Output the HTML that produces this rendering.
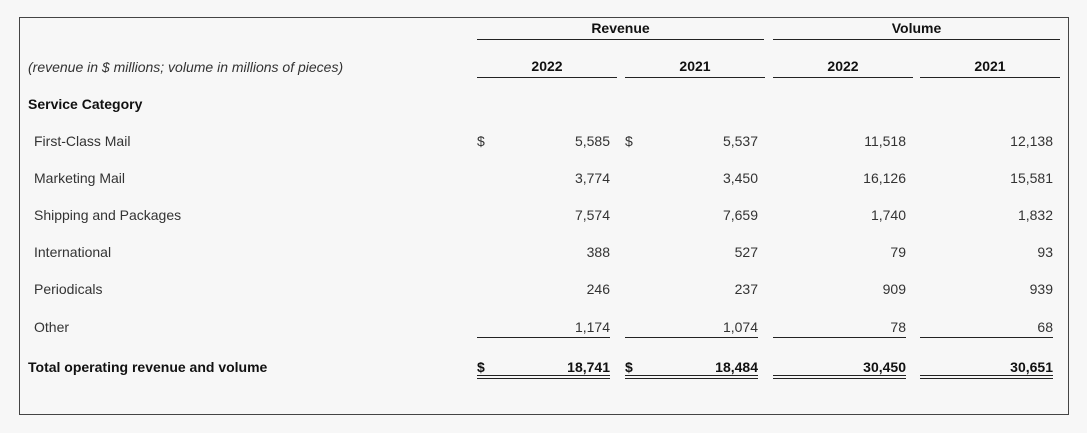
<!DOCTYPE html>
<html><head><meta charset="utf-8"><style>
html,body{margin:0;padding:0;width:1087px;height:433px;background:#f7f7f7;overflow:hidden;font-family:"Liberation Sans",Arial,sans-serif;}
#frame{position:absolute;left:19px;top:17px;width:1048px;height:396px;border:1px solid #444;}
.t{position:absolute;font-size:14px;color:#333;white-space:nowrap;line-height:16px;}
.b{font-weight:bold;color:#111;}
.ln{position:absolute;height:0;border-top:1px solid #222;}
.dbl{position:absolute;height:2px;border-top:1px solid #222;border-bottom:1px solid #222;}
</style></head><body>
<div id="frame"></div>
<div class="t b" style="left:477px;width:287px;top:20px;text-align:center">Revenue</div>
<div class="ln" style="left:477px;width:287px;top:39px"></div>
<div class="t b" style="left:773px;width:287px;top:20px;text-align:center">Volume</div>
<div class="ln" style="left:773px;width:287px;top:39px"></div>
<div class="t" style="left:28px;top:59px;font-style:italic">(revenue in $ millions; volume in millions of pieces)</div>
<div class="t b" style="left:28px;top:96px">Service Category</div>
<div id="tbl"></div>
<script>
const categories=["First-Class Mail","Marketing Mail","Shipping and Packages","International","Periodicals","Other"];
const years=["2022","2021","2022","2021"];
const revenue2022=["5,585","3,774","7,574","388","246","1,174"];
const revenue2021=["5,537","3,450","7,659","527","237","1,074"];
const volume2022=["11,518","16,126","1,740","79","909","78"];
const volume2021=["12,138","15,581","1,832","93","939","68"];
const totals=["18,741","18,484","30,450","30,651"];
const totalLabel="Total operating revenue and volume";
const series=[revenue2022,revenue2021,volume2022,volume2021];
const colL=[477,625,773,920], headW=[140,140,140,140], dataW=[133,133,133,133];
const rowY=[133,170,207,244,281,319], totalY=359;
const root=document.getElementById('tbl');
function add(cls,style,text,name){const d=document.createElement('div');d.className=cls;d.style.cssText=style;if(text!==null)d.textContent=text;


root.appendChild(d);return d;}
years.forEach((y,i)=>{
add('t b',`left:${colL[i]}px;width:${headW[i]}px;top:58px;text-align:center`,y,'year-header-'+i);
add('ln',`left:${colL[i]}px;width:${headW[i]}px;top:77px`,null,'year-header-rule-'+i);
});
categories.forEach((c,r)=>{
add('t',`left:34px;top:${rowY[r]}px`,c,'row-label-'+r);
series.forEach((s,i)=>{
add('t',`left:${colL[i]}px;width:${dataW[i]}px;top:${rowY[r]}px;text-align:right`,s[r],'cell-'+r+'-'+i);
});
});
add('t',`left:${colL[0]}px;top:${rowY[0]}px`,'$','dollar-sign-rev2022');
add('t',`left:${colL[1]}px;top:${rowY[0]}px`,'$','dollar-sign-rev2021');
series.forEach((s,i)=>{
add('ln',`left:${colL[i]}px;width:${dataW[i]}px;top:337px`,null,'subtotal-rule-'+i);
add('t b',`left:${colL[i]}px;width:${dataW[i]}px;top:${totalY}px;text-align:right`,totals[i],'total-'+i);
add('dbl',`left:${colL[i]}px;width:${dataW[i]}px;top:375px`,null,'total-double-rule-'+i);
});
add('t b',`left:28px;top:${totalY}px`,totalLabel,'total-label');
add('t b',`left:${colL[0]}px;top:${totalY}px`,'$','total-dollar-rev2022');
add('t b',`left:${colL[1]}px;top:${totalY}px`,'$','total-dollar-rev2021');
</script>
</body></html>
